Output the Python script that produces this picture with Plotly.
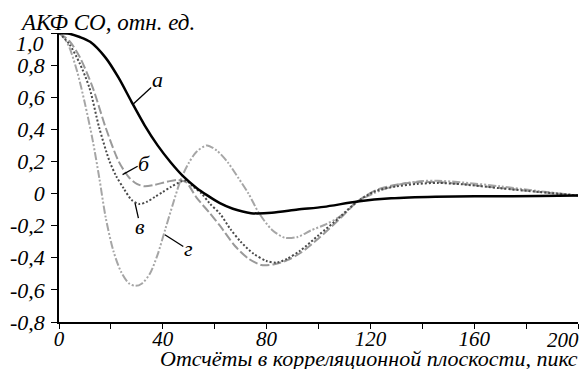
import plotly.graph_objects as go

# ---- data ----
x_a = [0, 4, 8, 12, 18, 23, 28, 33, 38, 43, 48, 53, 57, 62, 67, 74, 82, 92, 102, 115, 128, 145, 165, 185, 200]
y_a = [1.0, 0.995, 0.975, 0.945, 0.845, 0.72, 0.57, 0.425, 0.30, 0.195, 0.105, 0.035, -0.01, -0.06, -0.095,
       -0.122, -0.12, -0.1, -0.083, -0.05, -0.03, -0.02, -0.017, -0.015, -0.012]

x_b = [0, 4, 8, 13, 18, 23, 27, 30, 33, 37, 42, 46, 49, 53, 58, 62, 68, 73, 78, 83, 88, 93, 100, 108, 115,
       122, 130, 138, 145, 155, 170, 185, 200]
y_b = [1.0, 0.95, 0.85, 0.66, 0.41, 0.2, 0.1, 0.06, 0.045, 0.055, 0.075, 0.085, 0.07, -0.025, -0.12, -0.2,
       -0.33, -0.405, -0.445, -0.44, -0.415, -0.37, -0.28, -0.16, -0.05, 0.02, 0.055, 0.07, 0.072, 0.06,
       0.035, 0.01, -0.012]

x_v = [0, 4, 8, 11.7, 15.5, 19.5, 22, 25, 28, 31, 34, 37, 40, 43, 47, 49, 52, 55, 58, 62, 66, 70, 75, 80,
       84, 88, 93, 100, 108, 115, 122, 130, 138, 146, 155, 170, 185, 200]
y_v = [1.0, 0.93, 0.81, 0.66, 0.41, 0.2, 0.11, 0.03, -0.04, -0.065, -0.05, -0.02, 0.01, 0.04, 0.075, 0.08,
       0.04, 0.0, -0.06, -0.125, -0.22, -0.3, -0.375, -0.42, -0.43, -0.405, -0.355, -0.26, -0.15, -0.05,
       0.015, 0.045, 0.06, 0.066, 0.058, 0.033, 0.01, -0.012]

x_g = [0, 2, 4, 7, 10, 13, 15.5, 18, 21, 24, 27, 29.5, 32, 35, 38, 41, 44, 47, 50, 53, 57, 61, 65, 69, 73,
       77, 82, 87, 92, 97, 103, 108, 115, 124, 132, 140, 146, 155, 170, 185, 200]
y_g = [1.0, 0.97, 0.91, 0.76, 0.56, 0.33, 0.1, -0.15, -0.36, -0.49, -0.56, -0.575, -0.56, -0.5, -0.38,
       -0.22, -0.06, 0.09, 0.19, 0.26, 0.3, 0.265, 0.195, 0.1, 0.0, -0.12, -0.225, -0.275, -0.27, -0.23,
       -0.19, -0.145, -0.05, 0.02, 0.06, 0.078, 0.08, 0.07, 0.045, 0.015, -0.012]

y_tickvals = [1.0, 0.8, 0.6, 0.4, 0.2, 0, -0.2, -0.4, -0.6, -0.8]
y_ticktext = ["1,0", "0,8", "0,6", "0,4", "0,2", "0", "-0,2", "-0,4", "-0,6", "-0,8"]
x_tickvals = [0, 40, 80, 120, 160, 200]
x_ticktext = ["0", "40", "80", "120", "160", "200"]

# curve labels: text, text position, leader line start, leader line end
labels = [
    ("а", 38.0, 0.71, 28.4, 0.555, 35.5, 0.66),
    ("б", 32.9, 0.19, 24.5, 0.118, 30.3, 0.17),
    ("в", 31.2, -0.207, 29.3, -0.06, 30.6, -0.153),
    ("г", 49.8, -0.345, 40.8, -0.257, 47.9, -0.33),
]

FONT = "Liberation Serif"


def it(s):
    return "<i>" + s + "</i>"


fig = go.Figure()
fig.add_trace(go.Scatter(x=x_g, y=y_g, mode="lines", line=dict(color="#a6a6a6", width=2,
              dash="8px,2px,2px,2px,2px,2px", shape="spline", smoothing=0.8)))
fig.add_trace(go.Scatter(x=x_b, y=y_b, mode="lines", line=dict(color="#9a9a9a", width=2,
              dash="9px,3px", shape="spline", smoothing=0.8)))
fig.add_trace(go.Scatter(x=x_v, y=y_v, mode="lines", line=dict(color="#4a4a4a", width=2,
              dash="2px,2px", shape="spline", smoothing=0.8)))
fig.add_trace(go.Scatter(x=x_a, y=y_a, mode="lines", line=dict(color="black", width=2.5,
              shape="spline", smoothing=0.8)))

for t, tx, ty, x0, y0, x1, y1 in labels:
    fig.add_shape(type="line", x0=x0, y0=y0, x1=x1, y1=y1, xref="x", yref="y",
                  line=dict(color="black", width=1.3))
    fig.add_annotation(x=tx, y=ty, xref="x", yref="y", text=it(t), showarrow=False,
                       font=dict(family=FONT, size=22, color="black"))

# edge tick labels placed as annotations so they stay inside the picture
y_tick_shown = [it(s) for s in y_ticktext]
y_tick_shown[0] = ""
fig.add_annotation(xref="paper", yref="y", x=0, y=y_tickvals[0], xanchor="right", yanchor="middle",
                   xshift=-13, yshift=-10, text=it(y_ticktext[0]), showarrow=False,
                   font=dict(family=FONT, size=22, color="black"))
x_tick_shown = [it(s) for s in x_ticktext]
x_tick_shown[-1] = ""
fig.add_annotation(xref="x", yref="paper", x=x_tickvals[-1], y=0, xanchor="right", yanchor="middle",
                   xshift=3, yshift=-18, text=it(x_ticktext[-1]), showarrow=False,
                   font=dict(family=FONT, size=21, color="black"))

fig.add_annotation(xref="paper", yref="paper", x=1.0, y=0, xanchor="right", yanchor="middle",
                   yshift=-36, xshift=2, text=it("Отсчёты в корреляционной плоскости, пикс"), showarrow=False,
                   font=dict(family=FONT, size=22, color="black"))
fig.add_annotation(xref="paper", yref="paper", x=0, y=1, xanchor="left", yanchor="middle",
                   xshift=-41, yshift=11, text=it("АКФ СО, отн. ед."), showarrow=False,
                   font=dict(family=FONT, size=23, color="black"))

fig.update_layout(
    width=581, height=369,
    margin=dict(l=59, r=3, t=33, b=47, autoexpand=False),
    paper_bgcolor="white", plot_bgcolor="white",
    showlegend=False,
    font=dict(family=FONT, size=22, color="black"),
)
fig.update_xaxes(range=[0, 200], tickvals=x_tickvals, ticktext=x_tick_shown,
                 showline=True, linecolor="black", linewidth=1.5, ticks="outside", ticklen=5,
                 tickwidth=1.3, tickcolor="black", showgrid=False, zeroline=False,
                 automargin=False, ticklabelstandoff=-8,
                 minor=dict(tickvals=[20, 60, 100, 140, 180], ticks="outside", ticklen=5,
                            tickwidth=1.3, tickcolor="black", showgrid=False),
                 tickfont=dict(family=FONT, size=21))
fig.update_yaxes(range=[-0.8, 1.0], tickvals=y_tickvals, ticktext=y_tick_shown,
                 showline=True, linecolor="black", linewidth=1.5, ticks="outside", ticklen=6,
                 tickwidth=1.3, tickcolor="black", showgrid=False, zeroline=False,
                 automargin=False, ticklabelstandoff=2, tickfont=dict(family=FONT, size=22))

fig.write_html("out.html")
